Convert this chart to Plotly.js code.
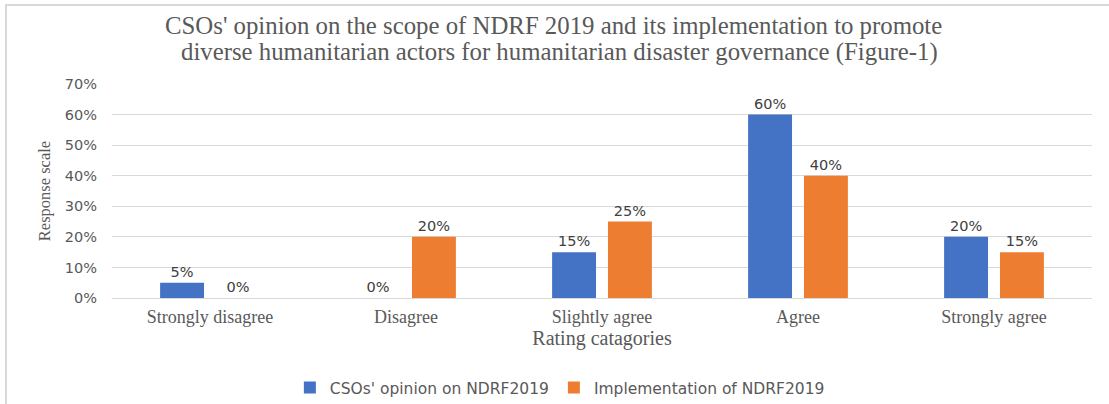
<!DOCTYPE html>
<html>
<head>
<meta charset="utf-8">
<script src="https://cdn.plot.ly/plotly-3.0.1.min.js"></script>
<style>
  html, body { margin: 0; padding: 0; background: #fff; }
  #wrap { position: relative; width: 1109px; height: 404px; }
  #chart { width: 1109px; height: 404px; }
  #frame { position: absolute; left: 5px; top: 4px; right: 0; bottom: 0;
           border-left: 2px solid #d9d9d9; border-top: 2px solid #d9d9d9; pointer-events: none; }
</style>
</head>
<body>
<div id="wrap">
  <div id="chart"></div>
  <div id="frame"></div>
</div>
<script>
const categories = ["Strongly disagree", "Disagree", "Slightly agree", "Agree", "Strongly agree"];
const seriesNames = ["CSOs' opinion on NDRF2019", "Implementation of NDRF2019"];
const csoOpinion = [0.05, 0.00, 0.15, 0.60, 0.20];
const implementation = [0.00, 0.20, 0.25, 0.40, 0.15];
const yTickVals = [0, 0.1, 0.2, 0.3, 0.4, 0.5, 0.6, 0.7];
const yTickText = ["0%", "10%", "20%", "30%", "40%", "50%", "60%", "70%"];
const titleLines = [
  "CSOs' opinion on the scope of NDRF 2019 and its implementation to promote",
  "diverse humanitarian actors for humanitarian disaster governance (Figure-1)"
];

const sans = "DejaVu Sans, Open Sans, sans-serif";
const serif = "Liberation Serif, DejaVu Serif, serif";

function barTrace(name, values, color) {
  return {
    type: "bar",
    name: name,
    x: categories,
    y: values,
    marker: { color: color },
    texttemplate: "%{y:.0%}",
    textposition: "outside",
    textfont: { family: sans, size: 14.5, color: "#404040" },
    cliponaxis: false,
    hoverinfo: "skip"
  };
}

const data = [
  barTrace(seriesNames[0], csoOpinion, "#4472C4"),
  barTrace(seriesNames[1], implementation, "#ED7D31")
];

const layout = {
  width: 1109,
  height: 404,
  margin: { l: 112, r: 17, t: 84, b: 106, autoexpand: false },
  paper_bgcolor: "#ffffff",
  plot_bgcolor: "#ffffff",
  barmode: "group",
  bargap: 0.43,
  bargroupgap: 0.214,
  annotations: [
    { text: titleLines[0], xref: "paper", yref: "paper", x: 0.45, y: 1.2757, xanchor: "center", yanchor: "middle",
      showarrow: false, font: { family: serif, size: 24.8, color: "#595959" } },
    { text: titleLines[1], xref: "paper", yref: "paper", x: 0.457, y: 1.1495, xanchor: "center", yanchor: "middle",
      showarrow: false, font: { family: serif, size: 24.8, color: "#595959" } }
  ],
  xaxis: {
    type: "category",
    automargin: false,
    showgrid: false,
    showline: false,
    zeroline: false,
    ticks: "",
    ticklabelstandoff: 6,
    tickfont: { family: serif, size: 18, color: "#595959" },
    title: { text: "Rating catagories", font: { family: serif, size: 20, color: "#595959" }, standoff: 4 },
    fixedrange: true
  },
  yaxis: {
    range: [0, 0.7],
    automargin: false,
    tickvals: yTickVals,
    ticktext: yTickText,
    showgrid: true,
    gridcolor: "#d9d9d9",
    gridwidth: 1,
    zeroline: true,
    zerolinecolor: "#d9d9d9",
    zerolinewidth: 1,
    showline: false,
    ticks: "",
    ticklabelstandoff: 14,
    tickfont: { family: sans, size: 14.5, color: "#595959" },
    title: { text: "Response scale", font: { family: serif, size: 16.5, color: "#595959" }, standoff: 9 },
    fixedrange: true
  },
  legend: {
    orientation: "h",
    x: 0.457,
    xanchor: "center",
    y: -0.42,
    yanchor: "middle",
    font: { family: sans, size: 15.5, color: "#595959" },
    tracegroupgap: 0
  },
  showlegend: true
};

Plotly.newPlot("chart", data, layout, { displayModeBar: false, staticPlot: true });
</script>
</body>
</html>
